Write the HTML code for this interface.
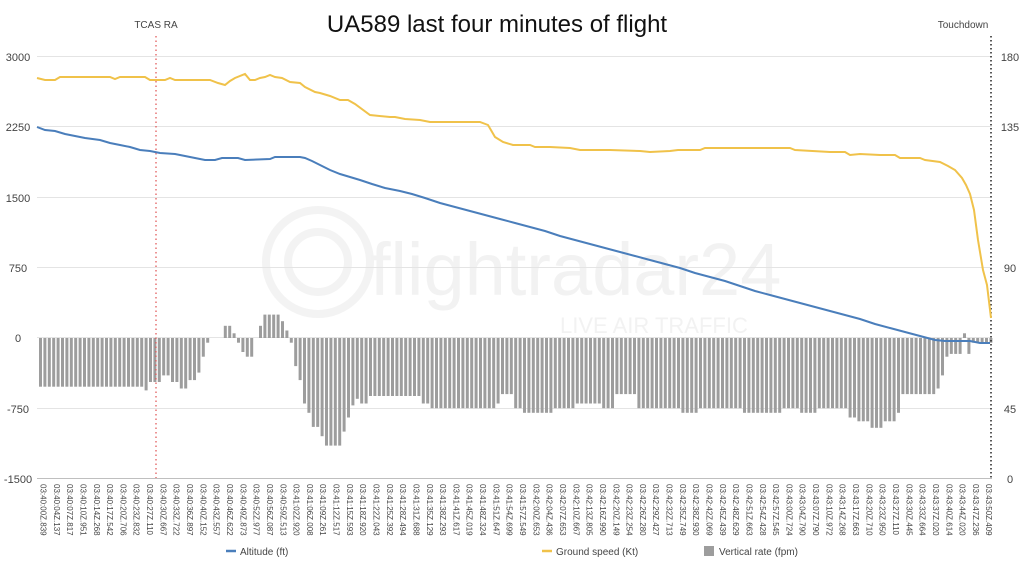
<!DOCTYPE html>
<html><head><meta charset="utf-8"><style>
html,body{margin:0;padding:0;background:#fff;}
svg{display:block;font-family:"Liberation Sans",sans-serif;}
</style></head><body>
<svg id="s" width="1024" height="576" viewBox="0 0 1024 576">
<g fill="none" stroke="#f3f3f3" stroke-width="8">
<circle cx="318" cy="262" r="52"/><circle cx="318" cy="262" r="30"/>
</g>
<text x="370" y="295" font-size="74" fill="#f2f2f2">flightradar24</text>
<text x="560" y="333" font-size="22" fill="#f2f2f2">LIVE AIR TRAFFIC</text>
<g stroke="#e4e4e4" stroke-width="1">
<line x1="37" x2="992" y1="56.5" y2="56.5"/><line x1="37" x2="992" y1="126.5" y2="126.5"/>
<line x1="37" x2="992" y1="197.5" y2="197.5"/><line x1="37" x2="992" y1="267.5" y2="267.5"/>
<line x1="37" x2="992" y1="337.5" y2="337.5"/><line x1="37" x2="992" y1="408.5" y2="408.5"/>
</g>
<line x1="37" x2="992" y1="478.5" y2="478.5" stroke="#bfbfbf"/>
<g font-size="11" fill="#444" text-anchor="middle">
<text x="18" y="61">3000</text><text x="18" y="131">2250</text><text x="18" y="202">1500</text>
<text x="18" y="272">750</text><text x="18" y="342">0</text><text x="18" y="413">-750</text><text x="18" y="483">-1500</text>
<text x="1010" y="61">180</text><text x="1010" y="131">135</text><text x="1010" y="272">90</text>
<text x="1010" y="413">45</text><text x="1010" y="483">0</text>
</g>
<text x="497" y="32" font-size="24" text-anchor="middle" fill="#111">UA589 last four minutes of flight</text>
<text x="156" y="28" font-size="10" text-anchor="middle" fill="#444">TCAS RA</text>
<text x="963" y="28" font-size="10" text-anchor="middle" fill="#444">Touchdown</text>
<g id="bars" fill="#9d9d9d"></g>
<line x1="156" x2="156" y1="36" y2="478" stroke="#e05050" stroke-dasharray="1.5,3" stroke-width="1.2"/>
<line x1="991" x2="991" y1="36" y2="478" stroke="#222" stroke-dasharray="1.5,2.5" stroke-width="1.5"/>
<polyline fill="none" stroke="#f0c24a" stroke-width="2" points="37,78 45,80 55,80 60,77 110,77 115,79 120,77 145,77 150,80 165,80 170,78 175,80 210,80 218,83 225,85 230,81 235,78 245,74 250,80 255,80 260,78 265,77 270,75 275,77 282,78 290,82 300,83 305,87 315,92 320,93 330,96 340,100 348,100 355,104 370,115 390,117 395,117 405,119 420,120 430,122 440,122 480,122 488,125 495,137 503,142 513,145 530,145 535,147 550,147 570,148 580,150 610,150 640,151 650,152 670,151 678,150 700,150 705,148 760,148 790,148 795,150 830,152 845,152 850,155 860,154 880,155 895,155 900,158 920,158 925,160 940,162 948,166 955,170 962,178 966,185 970,194 974,210 978,240 983,270 987,285 991,318"/>
<polyline fill="none" stroke="#4a7ebb" stroke-width="2" points="37,127 45,130 55,131 65,134 75,136 85,138 100,140 110,143 120,145 130,147 140,150 150,151 160,153 175,154 185,156 195,158 205,160 215,160 222,158 238,158 245,160 270,159 275,157 300,157 305,158 312,161 320,165 330,170 340,174 350,177 360,180 372,184 385,188 400,191 412,194 425,198 440,203 455,207 470,211 485,215 500,219 515,223 530,227 545,231 560,236 575,240 590,244 605,248 620,252 635,256 650,260 665,264 680,268 695,273 710,277 725,281 740,286 755,291 770,295 785,299 800,303 815,307 830,311 845,315 860,319 875,324 890,328 905,332 920,336 935,340 945,341 960,341 970,341 980,343 990,343"/>
<g id="xl" font-size="8" fill="#444"></g>
<g font-size="10" fill="#444">
<line x1="226" x2="236" y1="551" y2="551" stroke="#4a7ebb" stroke-width="2.5"/><text x="240" y="555">Altitude (ft)</text>
<line x1="542" x2="552" y1="551" y2="551" stroke="#f0c24a" stroke-width="2.5"/><text x="556" y="555">Ground speed (Kt)</text>
<rect x="704" y="546" width="10" height="10" fill="#9d9d9d"/><text x="719" y="555">Vertical rate (fpm)</text>
</g>
</svg>
<script>
var NS="http://www.w3.org/2000/svg";
var seg=[[37,-520],[145,-560],[150,-470],[160,-400],[170,-470],[178,-540],[190,-450],[196,-370],[202,-200],[207,-50],[212,0],[224,130],[233,50],[238,-50],[242,-150],[246,-200],[255,0],[258,130],[262,250],[280,180],[285,80],[289,-50],[293,-300],[298,-450],[302,-700],[307,-800],[312,-950],[318,-1050],[324,-1150],[342,-1000],[346,-850],[350,-720],[355,-650],[360,-700],[368,-620],[420,-700],[430,-750],[495,-700],[500,-600],[512,-750],[520,-800],[555,-750],[575,-700],[600,-750],[615,-600],[635,-750],[680,-800],[700,-750],[740,-800],[780,-750],[800,-800],[815,-750],[848,-850],[856,-890],[870,-960],[882,-890],[896,-800],[901,-600],[936,-540],[940,-400],[944,-200],[950,-170],[960,-100],[964,50],[968,-170],[972,-50],[994,0]];
function vr(x){var v=0;for(var i=0;i<seg.length;i++){if(x>=seg[i][0])v=seg[i][1];}return v;}
var g=document.getElementById("bars"),k=0.09356;
for(var x=39;x<990;x+=4.4){var v=vr(x+1.4);if(v==0)continue;var h=Math.abs(v)*k;var r=document.createElementNS(NS,"rect");
r.setAttribute("x",x.toFixed(1));r.setAttribute("width","3");r.setAttribute("y",(v>0?338-h:338).toFixed(1));r.setAttribute("height",h.toFixed(1));g.appendChild(r);}
var L=["03:40:00Z.839","03:40:04Z.137","03:40:07Z.817","03:40:10Z.951","03:40:14Z.268","03:40:17Z.542","03:40:20Z.706","03:40:23Z.832","03:40:27Z.110","03:40:30Z.667","03:40:33Z.722","03:40:36Z.897","03:40:40Z.152","03:40:43Z.557","03:40:46Z.622","03:40:49Z.873","03:40:52Z.977","03:40:56Z.087","03:40:59Z.513","03:41:02Z.920","03:41:06Z.008","03:41:09Z.261","03:41:12Z.517","03:41:15Z.593","03:41:18Z.920","03:41:22Z.043","03:41:25Z.392","03:41:28Z.494","03:41:31Z.688","03:41:35Z.129","03:41:38Z.293","03:41:41Z.617","03:41:45Z.019","03:41:48Z.324","03:41:51Z.647","03:41:54Z.699","03:41:57Z.549","03:42:00Z.653","03:42:04Z.436","03:42:07Z.653","03:42:10Z.667","03:42:13Z.805","03:42:16Z.990","03:42:20Z.149","03:42:23Z.254","03:42:26Z.280","03:42:29Z.427","03:42:32Z.713","03:42:35Z.749","03:42:38Z.930","03:42:42Z.069","03:42:45Z.439","03:42:48Z.629","03:42:51Z.663","03:42:54Z.428","03:42:57Z.545","03:43:00Z.724","03:43:04Z.790","03:43:07Z.790","03:43:10Z.972","03:43:14Z.268","03:43:17Z.663","03:43:20Z.710","03:43:23Z.950","03:43:27Z.110","03:43:30Z.445","03:43:33Z.664","03:43:37Z.020","03:43:40Z.614","03:43:44Z.020","03:43:47Z.236","03:43:50Z.409"];
var xl=document.getElementById("xl");
for(var i=0;i<L.length;i++){var x=40.5+i*13.32;var t=document.createElementNS(NS,"text");t.setAttribute("transform","translate("+x.toFixed(1)+",484) rotate(90)");t.textContent=L[i];xl.appendChild(t);}
</script>
</body></html>
